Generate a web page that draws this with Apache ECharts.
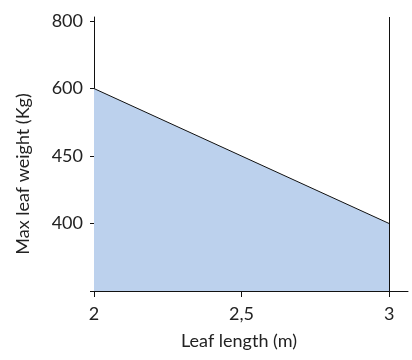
<!DOCTYPE html>
<html>
<head>
<meta charset="utf-8">
<script src="https://cdn.jsdelivr.net/npm/echarts@6/dist/echarts.min.js"></script>
<style>
html,body{margin:0;padding:0;background:#fff;}
#main{width:412px;height:360px;}
</style>
</head>
<body>
<div id="main"></div>
<script>
// leaf length (m) and max leaf weight (Kg)
var leafLength = [2, 3];
var leafWeight = [600, 400];
// y tick labels, evenly spaced on the chart (bottom one unlabeled)
var yTickLabels = [400, 450, 600, 800];
var xTicks = [2, 2.5, 3];

// weight -> position on the evenly spaced y scale
function yPos(v){
	for (var i = 0; i < yTickLabels.length - 1; i++) {
		var a = yTickLabels[i], b = yTickLabels[i + 1];
		if (v >= a && v <= b) return i + 1 + (v - a) / (b - a);
	}
	return v < yTickLabels[0] ? 1 - (yTickLabels[0] - v) / 50 : yTickLabels.length;
}

var points = [];
for (var i = 0; i < leafLength.length; i++) {
	points.push([leafLength[i], yPos(leafWeight[i])]);
}

var chart = echarts.init(document.getElementById("main"));
var font = 'Lato, "DejaVu Sans", sans-serif';

var option = {
	animation: false,
	grid: {left: 94, right: 4, top: 17, bottom: 69},
	xAxis: {
		type: 'value',
		min: 2,
		max: 3.064,
		name: 'Leaf length (m)',
		nameLocation: 'middle',
		nameGap: 41,
		nameTextStyle: {fontFamily: font, fontSize: 18, color: '#222', padding: [0, 24, 0, 0]},
		axisLine: {lineStyle: {color: '#111', width: 1}},
		axisTick: {show: true, length: 6, customValues: xTicks, lineStyle: {color: '#111'}},
		axisLabel: {
			customValues: xTicks,
			margin: 14,
			fontFamily: font, fontSize: 18, color: '#222',
			formatter: function(v){ return String(v).replace('.', ','); }
		},
		splitLine: {show: false}
	},
	yAxis: {
		type: 'value',
		min: 0,
		max: 4.06,
		name: 'Max leaf weight (Kg)',
		nameLocation: 'middle',
		nameGap: 62,
		nameTextStyle: {fontFamily: font, fontSize: 18, color: '#222', padding: [0, 40, 0, 0]},
		axisLine: {show: true, lineStyle: {color: '#111', width: 1}},
		axisTick: {show: true, length: 4, customValues: [0, 1, 2, 3, 4], lineStyle: {color: '#111'}},
		axisLabel: {
			customValues: [1, 2, 3, 4],
			margin: 11,
			fontFamily: font, fontSize: 18, color: '#222',
			formatter: function(v){ return String(yTickLabels[Math.round(v) - 1]); }
		},
		splitLine: {show: false}
	},
	series: [
		{
			type: 'line',
			data: points,
			symbol: 'none',
			lineStyle: {color: '#111', width: 1},
			areaStyle: {color: '#bcd1ed', opacity: 1},
			markLine: {
				silent: true,
				symbol: 'none',
				label: {show: false},
				lineStyle: {color: '#111', width: 1, type: 'solid'},
				data: [{xAxis: 3}]
			}
		}
	]
};

chart.setOption(option);
</script>
</body>
</html>
